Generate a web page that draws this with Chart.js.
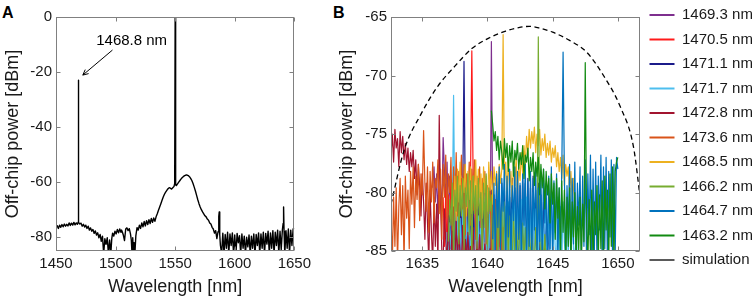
<!DOCTYPE html>
<html>
<head>
<meta charset="utf-8">
<script src="https://cdn.jsdelivr.net/npm/chart.js@4.4.0/dist/chart.umd.min.js"></script>
<style>
  html, body { margin: 0; padding: 0; background: #fff; overflow: hidden; }
  body { width: 755px; height: 307px; position: relative; font-family: "Liberation Sans", Arial, sans-serif; }
  canvas { position: absolute; }
  #chartA { left: 0; top: 0; }
  #chartB { left: 334px; top: -2px; }
  .tag { position: absolute; font-weight: bold; font-size: 16px; line-height: 1; color: #000; }
</style>
</head>
<body>
<div class="tag" style="left:2px;top:5px">A</div>
<div class="tag" style="left:333px;top:5px">B</div>
<canvas id="chartA" width="315" height="307"></canvas>
<canvas id="chartB" width="424" height="309"></canvas>
<script>
// ---- Panel A : full spectrum ----
const xTicksA = [1450, 1500, 1550, 1600, 1650];
const yTicksA = [-80, -60, -40, -20, 0];
const wlA = [
  1450,1451,1452,1453,1454,1455,1456,1457,1458,1459,
  1460,1461,1462,1463,1464,1465,1466,1467,1468,1468.6,
  1468.8,1469,1470,1471,1472,1473,1474,1475,1476,1477,
  1478,1479,1480,1481,1482,1483,1484,1485,1486,1487,
  1488,1489,1490,1491,1492,1493,1494,1495,1496,1496.8,
  1497.5,1498.5,1499.5,1500.5,1501.5,1502.5,1503.5,1504.5,1505,1505.6,
  1506.5,1507.5,1508.5,1509.5,1510.5,1511.5,1512.5,1513.2,1513.8,1514.4,
  1515,1515.6,1516.2,1517,1518,1519,1520,1521,1522,1523,
  1524,1525,1526,1527,1528,1529,1530,1531,1532,1533,
  1534,1535,1536,1537,1538,1539,1540,1541,1542,1543,
  1544,1545,1546,1547,1548,1549,1549.6,1550,1550.4,1551,
  1552,1553,1554,1555,1556,1557,1558,1559,1560,1561,
  1562,1563,1564,1565,1566,1567,1568,1569,1570,1571,
  1572,1573,1574,1575,1576,1577,1578,1579,1580,1581,
  1582,1583,1584,1585,1586,1586.6,1587,1587.4,1588,1589,
  1590,1591,1592,1593,1594,1595,1596,1597,1598,1599,
  1600,1601,1602,1603,1604,1605,1606,1607,1608,1609,
  1610,1611,1612,1613,1614,1615,1616,1617,1618,1619,
  1620,1621,1622,1623,1624,1625,1626,1627,1628,1629,
  1630,1631,1632,1633,1634,1635,1636,1637,1638,1639,
  1640,1640.6,1641,1641.4,1642,1643,1644,1645,1646,1647,
  1648,1649,1650
];
const powA = [
  -76.5,-75.8,-76.8,-75.6,-76.4,-75.4,-76.2,-75.2,-76.0,-75.3,
  -75.9,-74.8,-75.7,-74.9,-75.6,-74.6,-75.5,-74.8,-75.3,-74.5,
  -23,-74.6,-75.2,-74.9,-76.0,-75.3,-76.3,-75.6,-76.8,-76.0,
  -77.4,-76.6,-77.8,-77.2,-78.6,-77.7,-79.2,-78.4,-80.2,-79.0,
  -81.5,-79.6,-86,-80.5,-82.6,-80.2,-86,-81.0,-86,-80.5,
  -78.5,-79.6,-77.8,-78.8,-77.2,-78.4,-77.0,-78.2,-77.4,-78.0,
  -79.2,-81.2,-77.0,-76.6,-77.6,-76.9,-78.8,-81.0,-86,-80.2,
  -86,-82,-86,-79.5,-76.5,-77.4,-75.6,-76.8,-74.8,-76.2,
  -74.3,-75.9,-74.0,-75.4,-73.6,-75.0,-73.2,-74.6,-73.0,-74.2,
  -72.6,-71.5,-70.2,-69.0,-67.8,-66.6,-65.4,-64.4,-63.6,-63.0,
  -62.4,-62.0,-62.2,-62.5,-62.0,-61.6,-60.5,0,-61,-61.2,
  -60.6,-60.0,-59.4,-58.8,-58.3,-57.9,-57.6,-57.4,-57.4,-57.6,
  -58.0,-58.6,-59.4,-60.5,-61.8,-63.2,-64.8,-66.4,-67.8,-69.0,
  -70.0,-70.8,-71.5,-72.2,-72.6,-73.4,-73.8,-74.8,-75.2,-76.4,
  -77.0,-78.5,-77.6,-80.5,-78.0,-72.5,-70.8,-79,-83,-86,
  -78.5,-86,-79.0,-84,-78.2,-86,-78.8,-83,-78.4,-86,
  -79.2,-86,-78.6,-82,-79.4,-86,-78.8,-84,-79.6,-86,
  -80,-83.5,-79.2,-86,-79.6,-84,-78.8,-86,-79.0,-83,
  -78.4,-86,-78.8,-84,-78.2,-86,-78.6,-82.5,-77.8,-86,
  -78.4,-84,-77.6,-86,-78.2,-83,-77.4,-86,-77.8,-84.5,
  -77.2,-75,-69,-78,-86,-77.6,-84,-77.0,-86,-77.4,
  -83,-77.0,-76.8
];

// ---- Panel B : zoom on the idler region ----
const xTicksB = [1635, 1640, 1645, 1650];
const yTicksB = [-85, -80, -75, -70, -65];
const wlB = [
  1632.6,1632.7,1632.8,1632.9,1633.0,1633.1,1633.2,1633.3,1633.4,1633.5,
  1633.6,1633.7,1633.8,1633.9,1634.0,1634.1,1634.2,1634.3,1634.4,1634.5,
  1634.6,1634.7,1634.8,1634.9,1635.0,1635.1,1635.2,1635.3,1635.4,1635.5,
  1635.6,1635.7,1635.8,1635.9,1636.0,1636.1,1636.2,1636.3,1636.4,1636.5,
  1636.6,1636.7,1636.8,1636.9,1637.0,1637.1,1637.2,1637.3,1637.4,1637.5,
  1637.6,1637.7,1637.8,1637.9,1638.0,1638.1,1638.2,1638.3,1638.4,1638.5,
  1638.6,1638.7,1638.8,1638.9,1639.0,1639.1,1639.2,1639.3,1639.4,1639.5,
  1639.6,1639.7,1639.8,1639.9,1640.0,1640.1,1640.2,1640.3,1640.4,1640.5,
  1640.6,1640.7,1640.8,1640.9,1641.0,1641.1,1641.2,1641.3,1641.4,1641.5,
  1641.6,1641.7,1641.8,1641.9,1642.0,1642.1,1642.2,1642.3,1642.4,1642.5,
  1642.6,1642.7,1642.8,1642.9,1643.0,1643.1,1643.2,1643.3,1643.4,1643.5,
  1643.6,1643.7,1643.8,1643.9,1644.0,1644.1,1644.2,1644.3,1644.4,1644.5,
  1644.6,1644.7,1644.8,1644.9,1645.0,1645.1,1645.2,1645.3,1645.4,1645.5,
  1645.6,1645.7,1645.8,1645.9,1646.0,1646.1,1646.2,1646.3,1646.4,1646.5,
  1646.6,1646.7,1646.8,1646.9,1647.0,1647.1,1647.2,1647.3,1647.4,1647.5,
  1647.6,1647.7,1647.8,1647.9,1648.0,1648.1,1648.2,1648.3,1648.4,1648.5,
  1648.6,1648.7,1648.8,1648.9,1649.0,1649.1,1649.2,1649.3,1649.4,1649.5,
  1649.6,1649.7,1649.8,1649.9,1650.0
];
const pumpLabels = ['1469.3 nm','1470.5 nm','1471.1 nm','1471.7 nm','1472.8 nm',
                    '1473.6 nm','1468.5 nm','1466.2 nm','1464.7 nm','1463.2 nm'];
const pumpColors = ['#7E2F8E','#FF1A1A','#1B1B8A','#4DBEEE','#A2142F',
                    '#D95319','#EDB120','#77AC30','#0072BD','#118A11'];
// index into wlB where each trace starts
const bandStart = [32, 40, 44, 42, 0, 0, 48, 44, 78, 77];
const s1469_3 = [
  -79.6,-77.8,-80.8,-78.4,-82.2,-77.6,-79.4,-81.6,-75.3,-78.2,
  -80.6,-77.4,-83.0,-78.6,-81.2,-86,-79.0,-82.4,-78.4,-85.0,
  -79.2,-86,-80.2,-83.6,-78.8,-86,-79.8,-84.2,-80.4,-86,
  -79.4,-82.8,-86,-80.6,-85.0,-79.6,-86,-81.2,-84.0,-80.0,
  -86,-80.8,-85.4,-81.4,-86,-67.1,-81.8,-86,-80.6,-84.6,
  -86,-81.2,-85.8,-82.0,-86,-82.6,-86,-84.0,-86];
const s1470_5 = [
  -80.4,-84.6,-79.6,-86,-80.2,-82.8,-79.0,-86,-80.8,-84.0,
  -79.4,-86,-80.0,-83.2,-78.8,-86,-79.8,-85.0,-79.2,-86,
  -80.4,-78.6,-67.9,-78.8,-86,-80.2,-84.4,-79.6,-86,-81.0,
  -85.2,-80.0,-86,-81.6,-84.8,-80.4,-86,-81.2,-86,-82.0,
  -85.4,-81.0,-86,-82.4,-86,-81.6,-85.6,-86,-82.8,-86,
  -83.6,-86,-85];
const s1471_1 = [
  -86,-81.2,-84.8,-80.6,-86,-81.8,-85.2,-80.2,-86,-81.0,
  -84.0,-80.4,-68.8,-80.8,-86,-81.4,-85.0,-80.2,-86,-81.6,
  -84.4,-80.6,-86,-81.2,-85.4,-80.0,-86,-80.8,-84.2,-79.6,
  -86,-80.4,-85.0,-79.8,-86,-80.2,-83.6,-79.4,-86,-80.0,
  -84.8,-79.2,-86,-79.8,-85.2,-79.0,-86,-80.4,-83.8,-78.8,
  -86,-79.6,-84.6,-78.6,-86,-79.4,-85.4,-78.4,-86,-79.2,
  -84.2,-78.8,-86,-79.6,-85.0,-78.6,-86,-79.8,-84.6,-79.2,
  -86,-80.2,-85.2,-80.8,-86,-81.6,-86,-83,-86];
const s1471_7 = [
  -86,-83.4,-86,-82.6,-85.0,-82.0,-71.7,-82.4,-86,-81.8,
  -85.4,-82.2,-86,-81.4,-84.6,-86,-82.0,-85.2,-81.6,-86,
  -82.4,-84.8,-86,-81.2,-85.6,-82.0,-86,-81.6,-84.4,-86,
  -81.0,-85.2,-82.2,-86,-80.8,-84.8,-86,-81.4,-85.6,-80.6,
  -86,-81.8,-84.2,-86,-80.4,-85.0,-81.2,-86,-80.8,-84.6,
  -86,-81.4,-85.8,-80.2,-86,-81.0,-84.4,-86,-80.6,-85.2,
  -81.6,-86,-80.4,-84.8,-86,-81.2,-85.6,-80.0,-86,-81.4,
  -84.6,-86,-80.8,-85.2,-81.6,-86,-80.2,-84.0,-86,-81.0,
  -85.4,-80.6,-86,-81.8,-84.8,-86,-80.4,-85.6,-81.2,-86,
  -80.8,-84.2,-86,-81.6,-85.4,-80.6,-86,-82.0,-84.8,-86,
  -82.6,-86,-85];
const s1472_8 = [
  -76.8,-75.0,-77.4,-74.6,-76.2,-75.4,-77.8,-74.8,-76.6,-75.2,
  -77.2,-75.8,-77.6,-76.2,-78.2,-76.6,-77.8,-76.4,-78.8,-77.2,
  -80.2,-77.6,-79.4,-82.0,-78.4,-80.8,-84.0,-79.2,-82.6,-86,
  -79.8,-83.4,-86,-80.4,-84.6,-81.0,-86,-73.4,-80.8,-85.0,
  -86,-81.4,-84.2,-86,-82.0,-85.6,-86,-81.6,-84.8,-86,
  -82.4,-86,-83.2,-85.4,-86,-82.8,-86,-84.0,-86,-83.4,
  -86,-84.6,-86,-83.0,-85.8,-86,-84.2,-86,-83.6,-86,
  -85.0,-86,-84.4,-86,-85.6,-86,-84.8,-86,-85.4,-86,
  -85.2,-86,-85.8,-86,-86];
const s1473_6 = [
  -81.8,-86,-80.4,-84.6,-79.6,-86,-81.2,-78.8,-83.6,-79.4,
  -86,-78.6,-82.2,-79.8,-84.8,-78.2,-81.0,-77.8,-83.0,-78.6,
  -80.6,-77.6,-82.4,-78.4,-80.2,-74.7,-79.2,-81.6,-77.8,-83.4,
  -78.2,-80.8,-77.4,-82.6,-78.8,-79.6,-77.2,-81.8,-78.0,-84.0,
  -77.6,-80.4,-76.8,-82.2,-78.4,-80.0,-77.0,-83.2,-77.8,-81.2,
  -76.6,-82.0,-78.2,-79.8,-76.8,-81.4,-77.6,-83.6,-78.4,-80.6,
  -77.4,-82.8,-78.0,-80.2,-77.2,-84.0,-78.6,-81.0,-77.8,-83.0,
  -78.8,-80.6,-78.2,-84.4,-79.4,-81.8,-79.0,-85.2,-80.0,-82.6,
  -80.6,-86,-81.4,-84.6,-82.0,-86,-83.0,-86,-85.0];
const s1468_5 = [
  -81.2,-78.6,-82.4,-78.0,-80.8,-77.4,-81.6,-78.8,-80.0,-77.6,
  -82.0,-78.2,-80.6,-77.8,-81.8,-78.6,-80.2,-77.2,-81.4,-78.0,
  -80.4,-78.4,-82.2,-77.8,-80.0,-78.6,-81.6,-77.4,-79.8,-78.2,
  -81.0,-77.8,-79.4,-78.2,-80.6,-77.6,-79.2,-78.0,-66.5,-79.0,
  -77.4,-80.4,-77.0,-79.6,-78.2,-80.8,-77.4,-79.4,-77.0,-80.2,
  -77.8,-79.0,-76.6,-78.4,-76.0,-77.6,-75.2,-76.8,-74.6,-76.2,
  -74.8,-75.8,-74.4,-76.6,-75.0,-76.0,-74.6,-76.8,-75.4,-76.4,
  -75.0,-77.0,-75.8,-76.8,-75.6,-77.4,-76.2,-77.0,-76.0,-77.8,
  -76.6,-78.2,-77.0,-78.8,-76.8,-79.4,-77.6,-78.6,-77.8,-80.0,
  -78.2,-80.6,-78.8,-81.4,-82.6];
const s1466_2 = [
  -84.2,-80.6,-82.8,-79.2,-86,-79.8,-81.6,-78.6,-84.4,-79.4,
  -82.0,-78.8,-85.0,-79.6,-81.2,-78.4,-83.6,-79.0,-86,-78.6,
  -81.8,-79.4,-84.8,-78.8,-82.4,-80.0,-86,-79.2,-83.0,-78.4,
  -85.4,-79.6,-81.6,-80.2,-86,-80.6,-83.8,-81.0,-86,-80.4,
  -84.2,-81.2,-86,-80.8,-85.0,-81.6,-86,-82.0,-84.6,-86,
  -81.6,-85.6,-82.4,-86,-81.8,-84.8,-86,-82.6,-86,-83.0,
  -85.4,-86,-82.4,-86,-83.6,-85.0,-86,-83.0,-86,-66.7,
  -83.4,-86,-84.0,-86,-83.6,-86,-84.8,-86,-85.2,-86,
  -85.6,-86,-86];
const s1464_7 = [
  -84.0,-79.2,-86,-78.4,-83.0,-77.8,-85.4,-78.8,-81.6,-77.6,
  -86,-78.6,-83.8,-78.0,-86,-79.4,-82.4,-77.8,-85.6,-78.2,
  -84.0,-79.2,-86,-78.4,-82.8,-77.6,-86,-79.0,-84.6,-78.2,
  -86,-78.8,-83.2,-77.8,-86,-79.6,-84.2,-78.4,-86,-78.0,
  -82.6,-79.2,-86,-78.6,-84.8,-77.8,-86,-79.0,-83.4,-78.4,
  -86,-79.6,-84.0,-78.2,-68.0,-78.6,-86,-79.4,-83.0,-77.6,
  -86,-78.8,-84.4,-77.4,-86,-79.2,-82.8,-77.8,-86,-78.6,
  -84.6,-77.2,-86,-78.4,-83.6,-76.8,-86,-78.0,-85.0,-77.4,
  -86,-78.6,-83.2,-76.8,-86,-77.8,-84.8,-77.0,-86,-78.2,
  -83.8,-77.2,-86,-77.6,-85.2,-77.0,-78.0];
const s1463_2 = [
  -73.0,-74.2,-75.6,-74.8,-76.4,-75.2,-77.2,-75.6,-76.6,-78.0,
  -75.4,-77.0,-75.8,-78.2,-76.0,-77.4,-75.6,-78.6,-76.4,-77.2,
  -75.8,-78.0,-76.6,-77.6,-76.0,-78.8,-76.8,-77.4,-76.2,-79.0,
  -77.0,-78.2,-76.6,-79.4,-77.4,-78.6,-77.0,-80.2,-77.6,-79.6,
  -78.0,-81.4,-78.2,-80.2,-78.8,-82.6,-78.4,-81.0,-79.2,-84.0,
  -78.8,-82.2,-79.6,-86,-79.0,-83.4,-79.8,-86,-80.4,-84.6,
  -79.6,-86,-80.8,-83.8,-80.0,-86,-81.2,-85.0,-80.4,-86,
  -81.0,-84.2,-68.9,-82.0,-86,-80.6,-85.2,-79.8,-86,-80.8,
  -83.6,-79.4,-86,-80.2,-84.8,-79.0,-86,-78.6,-83.2,-79.8,
  -86,-78.4,-84.6,-77.8,-86,-78.2,-77.4,-77.0];
const pumpSeries = [s1469_3, s1470_5, s1471_1, s1471_7, s1472_8, s1473_6, s1468_5, s1466_2, s1464_7, s1463_2];
const simWl  = [1632.6,1633.6,1634.9,1636.2,1637.5,1638.8,1640.1,1641.4,1642.4,1643.2,
                1644.0,1645.0,1646.3,1647.6,1648.9,1650.2,1651.2,1651.7];
const simPow = [-81.0,-76.4,-73.3,-70.9,-69.2,-67.7,-66.8,-66.2,-65.9,-65.8,
                -65.95,-66.3,-67.0,-68.0,-70.0,-72.7,-76.1,-80.3];

const FONT = '"Liberation Sans", Arial, Helvetica, sans-serif';
Chart.defaults.font.family = FONT;
Chart.defaults.color = '#1a1a1a';

// the vertical legend sizes itself with a narrower swatch than the one it draws,
// so give it some extra room or the labels get clipped
const LegendBox = Chart.Legend && Chart.Legend._element;
if (LegendBox) {
  const fit0 = LegendBox.prototype.fit;
  LegendBox.prototype.fit = function () {
    fit0.call(this);
    if (!this.isHorizontal() && this.options.display) this.width += 12;
  };
}

// box around the axes + inward tick marks (matlab style)
const framePlugin = {
  id: 'frame',
  afterDraw(chart) {
    const { ctx, chartArea: a } = chart;
    const xs = chart.scales.x, ys = chart.scales.y;
    const L = Math.round(a.left) + 0.5, R = Math.round(a.right) - 0.5;
    const T = Math.round(a.top) + 0.5, B = Math.round(a.bottom) - 0.5;
    ctx.save();
    ctx.strokeStyle = '#808080';
    ctx.lineWidth = 1;
    ctx.strokeRect(L, T, R - L, B - T);
    ctx.beginPath();
    xs.ticks.forEach(t => {
      const p = Math.round(xs.getPixelForValue(t.value)) + 0.5;
      ctx.moveTo(p, B); ctx.lineTo(p, B - 4);
      ctx.moveTo(p, T); ctx.lineTo(p, T + 4);
    });
    ys.ticks.forEach(t => {
      const p = Math.round(ys.getPixelForValue(t.value)) + 0.5;
      ctx.moveTo(L, p); ctx.lineTo(L + 4, p);
      ctx.moveTo(R, p); ctx.lineTo(R - 4, p);
    });
    ctx.stroke();

    if (chart.canvas.id === 'chartA') {
      // "1468.8 nm" label with arrow
      ctx.fillStyle = '#000';
      ctx.font = '15px ' + FONT;
      ctx.textAlign = 'center';
      ctx.textBaseline = 'middle';
      ctx.fillText('1468.8 nm', xs.getPixelForValue(1513.5), ys.getPixelForValue(-8.7));
      const x0 = xs.getPixelForValue(1497.4), y0 = ys.getPixelForValue(-12.0);
      const x1 = xs.getPixelForValue(1472.5), y1 = ys.getPixelForValue(-21.1);
      const ang = Math.atan2(y1 - y0, x1 - x0);
      ctx.strokeStyle = '#000';
      ctx.beginPath();
      ctx.moveTo(x0, y0); ctx.lineTo(x1, y1);
      ctx.moveTo(x1, y1); ctx.lineTo(x1 - 6 * Math.cos(ang - 0.45), y1 - 6 * Math.sin(ang - 0.45));
      ctx.moveTo(x1, y1); ctx.lineTo(x1 - 6 * Math.cos(ang + 0.45), y1 - 6 * Math.sin(ang + 0.45));
      ctx.stroke();
    }
    ctx.restore();
  }
};

const tickFont = { size: 15 };
const titleFont = { size: 18 };

function axisX(ticksList, min, max, h) {
  return {
    type: 'linear', min, max,
    afterBuildTicks: s => { s.ticks = ticksList.map(v => ({ value: v })); },
    afterFit: s => { s.height = h; },
    grid: { display: false, drawTicks: false }, border: { display: false },
    ticks: { font: tickFont, padding: 4, maxRotation: 0, autoSkip: false, callback: v => String(v) },
    title: { display: true, text: 'Wavelength [nm]', font: titleFont, padding: { top: 0, bottom: 9 } }
  };
}
function axisY(ticksList, min, max, w) {
  return {
    min, max,
    afterBuildTicks: s => { s.ticks = ticksList.map(v => ({ value: v })); },
    afterFit: s => { s.width = w; },
    grid: { display: false, drawTicks: false }, border: { display: false },
    ticks: { font: tickFont, padding: 4, autoSkip: false, callback: v => String(v) },
    title: { display: true, text: 'Off-chip power [dBm]', font: titleFont, padding: { top: 2, bottom: 0 } }
  };
}

new Chart(document.getElementById('chartA'), {
  type: 'line',
  data: {
    datasets: [{
      data: wlA.map((x, i) => ({ x, y: powA[i] })),
      borderColor: '#000', borderWidth: 1.4, pointRadius: 0, tension: 0, borderJoinStyle: 'round'
    }]
  },
  options: {
    responsive: false, animation: false, devicePixelRatio: 1,
    layout: { padding: { top: 17, right: 10, left: 0, bottom: 0 } },
    plugins: { legend: { display: false }, tooltip: { enabled: false } },
    scales: { x: axisX(xTicksA, 1450, 1650, 56), y: axisY(yTicksA, -85, 0, 56) }
  },
  plugins: [framePlugin]
});

const dsB = pumpSeries.map((vals, k) => ({
  label: pumpLabels[k],
  data: vals.map((y, j) => ({ x: wlB[bandStart[k] + j], y })),
  borderColor: pumpColors[k], backgroundColor: pumpColors[k],
  borderWidth: 1.2, pointRadius: 0, tension: 0, borderJoinStyle: 'round',
  order: pumpSeries.length - k
}));
dsB.push({
  label: 'simulation',
  data: simWl.map((x, i) => ({ x, y: simPow[i] })),
  borderColor: '#000', backgroundColor: '#000', borderWidth: 1.3, borderDash: [5, 3.5],
  pointRadius: 0, tension: 0.4, cubicInterpolationMode: 'monotone', order: 0
});

new Chart(document.getElementById('chartB'), {
  type: 'line',
  data: { datasets: dsB },
  options: {
    responsive: false, animation: false, devicePixelRatio: 1,
    layout: { padding: 0 },
    plugins: {
      tooltip: { enabled: false },
      legend: {
        position: 'right', align: 'start',
        labels: {
          usePointStyle: true, pointStyle: 'line', pointStyleWidth: 25,
          padding: 9.5, font: { size: 15 }, color: '#1a1a1a',
          sort: (a, b) => a.datasetIndex - b.datasetIndex,
          generateLabels: c => Chart.defaults.plugins.legend.labels.generateLabels(c)
            .map(l => ({ ...l, lineWidth: l.text === 'simulation' ? 1.3 : 2 }))
        }
      }
    },
    scales: {
      x: axisX(xTicksB, 1632.6, 1651.7, 56),
      x2: {
        type: 'linear', position: 'top', display: true,
        grid: { display: false }, border: { display: false }, ticks: { display: false },
        afterFit: s => { s.height = 19; }
      },
      y: axisY(yTicksB, -85, -65, 57)
    }
  },
  plugins: [framePlugin]
});
</script>
</body>
</html>
